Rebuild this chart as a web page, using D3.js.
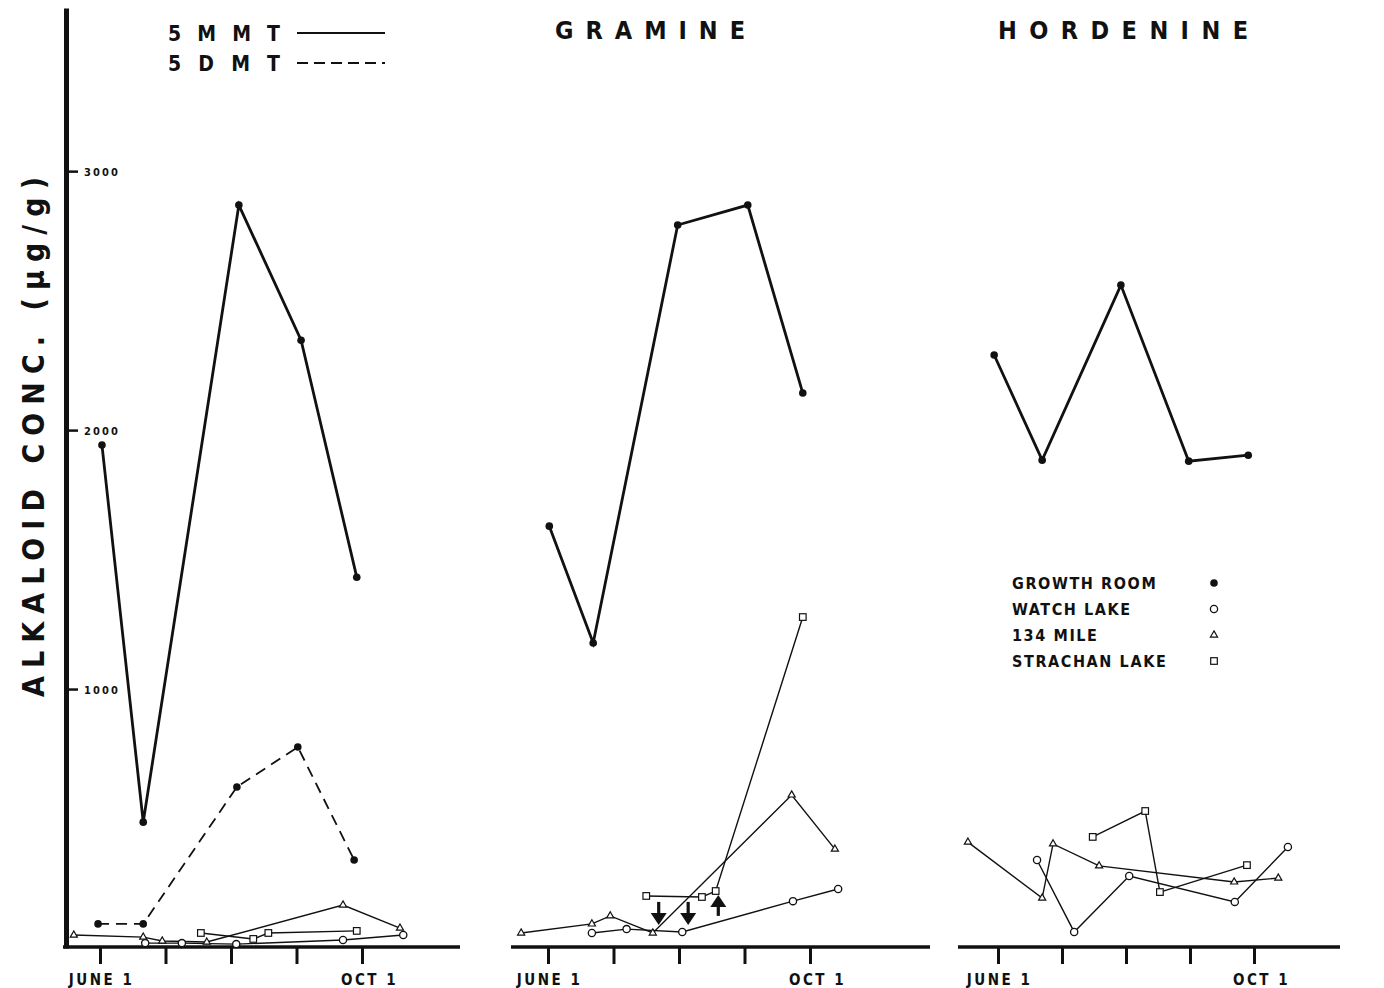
<!DOCTYPE html>
<html>
<head>
<meta charset="utf-8">
<script src="https://cdn.jsdelivr.net/npm/d3@7"></script>
<style>
body { margin: 0; background: #fff; }
svg text { font-family: "DejaVu Sans Condensed", "Liberation Sans Narrow", "DejaVu Sans", sans-serif; font-weight: bold; fill: #111; }
</style>
</head>
<body>
<div id="chart"></div>
<script>
// x values are months after June 1, y values are alkaloid conc. (ug/g)
const mmtGrowth    = [[0.03,1942],[0.66,486],[2.12,2869],[3.07,2347],[3.92,1432]];
const dmtGrowth    = [[-0.03,93],[0.66,93],[2.09,622],[3.02,776],[3.88,340]];
const mmtWatch     = [[0.69,19],[1.25,19],[2.08,15],[3.71,31],[4.63,50]];
const mmtMile      = [[-0.40,50],[0.66,42],[0.95,27],[1.63,23],[3.71,166],[4.58,77]];
const mmtStrachan  = [[1.54,58],[2.34,35],[2.57,58],[3.92,66]];

const graGrowth    = [[0.02,1629],[0.69,1178],[1.98,2792],[3.05,2869],[3.89,2143]];
const graWatch     = [[0.67,58],[1.20,73],[2.05,62],[3.74,181],[4.43,228]];
const graMile      = [[-0.41,58],[0.67,93],[0.95,124],[1.60,58],[3.72,591],[4.38,382]];
const graStrachan  = [[1.50,201],[2.35,197],[2.56,220],[3.89,1278]];
const graArrows    = [[1.69,178,89],[2.14,178,89],[2.60,124,205]]; // month, from, to

const horGrowth    = [[-0.06,2290],[0.69,1884],[1.92,2560],[2.98,1880],[3.91,1903]];
const horWatch     = [[0.61,340],[1.19,62],[2.05,278],[3.70,178],[4.53,390]];
const horMile      = [[-0.47,409],[0.69,193],[0.86,402],[1.58,317],[3.69,255],[4.38,270]];
const horStrachan  = [[1.48,429],[2.30,529],[2.53,216],[3.89,320]];

const panelTitles  = ['', 'GRAMINE', 'HORDENINE'];
const compoundKeys = ['5MMT', '5DMT'];
const siteKeys     = ['GROWTH ROOM', 'WATCH LAKE', '134 MILE', 'STRACHAN LAKE'];
const monthTicks   = [0, 1, 2, 3, 4];
const monthLabels  = ['JUNE 1', '', '', '', 'OCT 1'];
const yTicks       = [1000, 2000, 3000];

const panelSeries = [
    [
        {site: 0, data: mmtGrowth},
        {site: 0, data: dmtGrowth, dashed: true},
        {site: 1, data: mmtWatch},
        {site: 2, data: mmtMile},
        {site: 3, data: mmtStrachan}
    ],
    [
        {site: 0, data: graGrowth},
        {site: 1, data: graWatch},
        {site: 2, data: graMile},
        {site: 3, data: graStrachan}
    ],
    [
        {site: 0, data: horGrowth},
        {site: 1, data: horWatch},
        {site: 2, data: horMile},
        {site: 3, data: horStrachan}
    ]
];

const width = 1384;
const height = 988;
const baseY = 948;

// layout of each panel: where June 1 and Oct 1 fall, and baseline extent
const panelRange = [[100, 362], [548, 810], [998, 1254]];
const panelBase  = [[63, 460], [511, 930], [958, 1340]];
const titleX     = [0, 555, 998];
const titleLen   = [0, 190, 250];

const svg = d3.select('#chart')
    .append('svg')
    .attr('width', width)
    .attr('height', height);

const yScale = d3.scaleLinear().domain([0, 3630]).range([baseY, 8]);

const lineGen = d3.line();

function drawMarker(g, site, x, y){
    if(site == 0){
        g.append('circle').attr('cx', x).attr('cy', y).attr('r', 3.8).attr('fill', '#111');
    }
    else if(site == 1){
        g.append('circle').attr('cx', x).attr('cy', y).attr('r', 3.6)
            .attr('fill', '#fff').attr('stroke', '#111').attr('stroke-width', 1.3);
    }
    else if(site == 2){
        g.append('path')
            .attr('d', d3.symbol().type(d3.symbolTriangle).size(22)())
            .attr('transform', `translate(${x},${y})`)
            .attr('fill', '#fff').attr('stroke', '#111').attr('stroke-width', 1.2);
    }
    else {
        g.append('rect').attr('x', x - 3.3).attr('y', y - 3.3)
            .attr('width', 6.6).attr('height', 6.6)
            .attr('fill', '#fff').attr('stroke', '#111').attr('stroke-width', 1.2);
    }
}

// y axis
const yAxisG = svg.append('g')
    .attr('transform', `translate(66,0)`)
    .call(d3.axisRight(yScale).tickValues(yTicks).tickSize(12).tickSizeOuter(0)
        .tickFormat(d3.format('d')));
yAxisG.select('.domain').attr('stroke', '#111').attr('stroke-width', 5);
yAxisG.selectAll('.tick line').attr('stroke', '#111').attr('stroke-width', 2.5);
yAxisG.selectAll('.tick text')
    .attr('x', 18)
    .attr('dy', '0.36em')
    .attr('textLength', 34)
    .attr('lengthAdjust', 'spacing')
    .style('font-size', '11px');

svg.append('text')
    .attr('transform', `translate(44,437) rotate(-90)`)
    .attr('text-anchor', 'middle')
    .attr('textLength', 520)
    .attr('lengthAdjust', 'spacing')
    .style('font-size', '30px')
    .text('ALKALOID  CONC.  (\u00B5g/g)');

panelSeries.forEach(function(series, p){
    const xScale = d3.scaleLinear().domain([0, 4]).range(panelRange[p]);
    const g = svg.append('g');

    // baseline
    g.append('line')
        .attr('x1', panelBase[p][0]).attr('x2', panelBase[p][1])
        .attr('y1', baseY - 1).attr('y2', baseY - 1)
        .attr('stroke', '#111').attr('stroke-width', 3.5);

    const xAxisG = g.append('g')
        .attr('transform', `translate(0,${baseY})`)
        .call(d3.axisBottom(xScale).tickValues(monthTicks).tickSize(16)
            .tickFormat((d, i) => monthLabels[i]));
    xAxisG.select('.domain').remove();
    xAxisG.selectAll('.tick line').attr('stroke', '#111').attr('stroke-width', 3);
    xAxisG.selectAll('.tick text')
        .attr('y', 37)
        .attr('dy', 0)
        .attr('dx', (d, i) => i == 4 ? 7 : 1)
        .style('font-size', '15px')
        .style('letter-spacing', '2.5px');

    // lines
    series.forEach(function(s){
        g.append('path')
            .attr('d', lineGen(s.data.map(d => [xScale(d[0]), yScale(d[1])])))
            .attr('fill', 'none')
            .attr('stroke', '#111')
            .attr('stroke-width', s.site == 0 ? (s.dashed ? 1.8 : 2.8) : 1.4)
            .attr('stroke-dasharray', s.dashed ? '11,7' : null);
    });
    // markers
    series.forEach(function(s){
        s.data.forEach(d => drawMarker(g, s.site, xScale(d[0]), yScale(d[1])));
    });

    if(panelTitles[p]){
        g.append('text')
            .attr('x', titleX[p])
            .attr('y', 39)
            .attr('textLength', titleLen[p])
            .attr('lengthAdjust', 'spacing')
            .style('font-size', '25px')
            .text(panelTitles[p]);
    }

    if(p == 1){
        graArrows.forEach(function(a){
            const x = xScale(a[0]);
            const y0 = yScale(a[1]);
            const y1 = yScale(a[2]);
            const dir = y1 > y0 ? 1 : -1;
            g.append('line')
                .attr('x1', x).attr('x2', x)
                .attr('y1', y0).attr('y2', y1 - dir * 10)
                .attr('stroke', '#111').attr('stroke-width', 3.2);
            g.append('path')
                .attr('d', `M${x - 8},${y1 - dir * 12}L${x + 8},${y1 - dir * 12}L${x},${y1}Z`)
                .attr('fill', '#111');
        });
    }
});

// compound legend (top left)
compoundKeys.forEach(function(k, i){
    const y = 41 + i * 30;
    svg.append('text')
        .attr('x', 168)
        .attr('y', y)
        .attr('textLength', 112)
        .attr('lengthAdjust', 'spacing')
        .style('font-size', '21px')
        .text(k);
    svg.append('line')
        .attr('x1', 297).attr('x2', 385)
        .attr('y1', y - 8).attr('y2', y - 8)
        .attr('stroke', '#111')
        .attr('stroke-width', 2)
        .attr('stroke-dasharray', i == 1 ? '11,6' : null);
});

// site legend
siteKeys.forEach(function(k, i){
    const y = 583 + i * 26;
    svg.append('text')
        .attr('x', 1012)
        .attr('y', y + 6)
        .style('font-size', '16px')
        .style('letter-spacing', '1.6px')
        .text(k);
    drawMarker(svg, i, 1214, y);
});
</script>
</body>
</html>
